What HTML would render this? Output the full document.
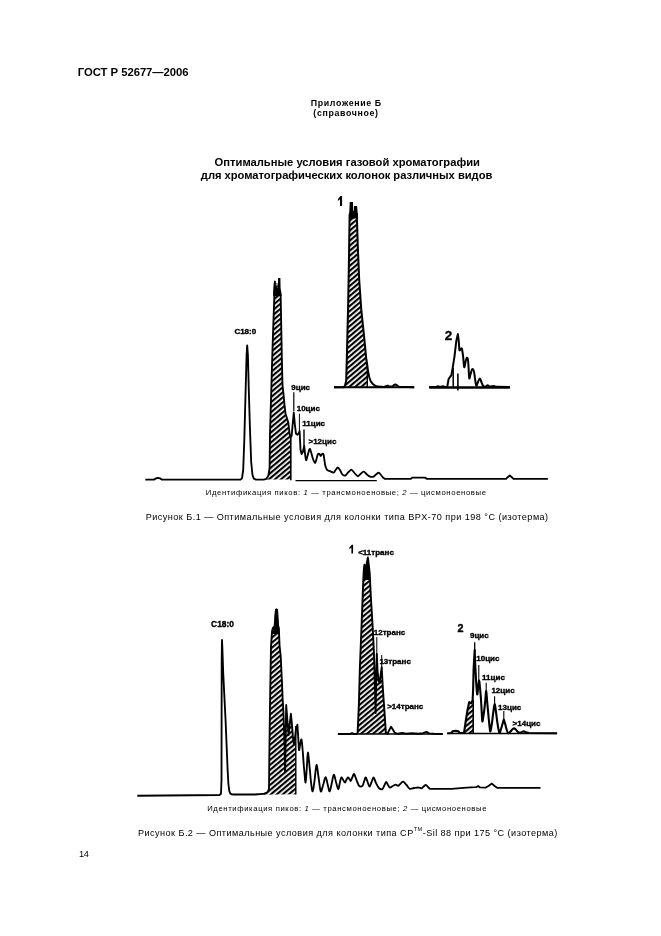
<!DOCTYPE html>
<html><head><meta charset="utf-8">
<style>
html,body{margin:0;padding:0;background:#fff;}
body{filter:grayscale(1);}
body{width:661px;height:936px;position:relative;overflow:hidden;font-family:"Liberation Sans",sans-serif;color:#000;}
.t{position:absolute;white-space:nowrap;line-height:1;}
.c{text-align:center;left:0;width:661px;}
.b{font-weight:bold;}
svg{position:absolute;left:0;top:0;}
.lb{font-family:"Liberation Sans",sans-serif;font-weight:bold;font-size:7.5px;stroke:#000;stroke-width:0.35px;}
</style></head><body>
<div class="t b" id="hdr" style="left:77.8px;top:66.5px;font-size:11.3px;letter-spacing:-0.040px;">ГОСТ Р 52677—2006</div>
<div class="t b" id="app1" style="left:310.8px;top:98.9px;font-size:8.8px;letter-spacing:0.650px;">Приложение Б</div>
<div class="t b" id="app2" style="left:313.3px;top:108.9px;font-size:8.8px;letter-spacing:0.650px;">(справочное)</div>
<div class="t b" id="ttl1" style="left:214.6px;top:156.8px;font-size:11.2px;letter-spacing:0.000px;">Оптимальные условия газовой хроматографии</div>
<div class="t b" id="ttl2" style="left:200.8px;top:169.7px;font-size:11.2px;letter-spacing:-0.020px;">для хроматографических колонок различных видов</div>
<div class="t" id="id1" style="left:205.8px;top:488.9px;font-size:7.7px;letter-spacing:0.636px;">Идентификация пиков: <i>1</i> — трансмоноеновые; <i>2</i> — цисмоноеновые</div>
<div class="t" id="cap1" style="left:145.7px;top:513.2px;font-size:9.1px;letter-spacing:0.463px;">Рисунок Б.1 — Оптимальные условия для колонки типа BPX-70 при 198 °С (изотерма)</div>
<div class="t" id="id2" style="left:207.2px;top:804.8px;font-size:7.7px;letter-spacing:0.620px;">Идентификация пиков: <i>1</i> — трансмоноеновые; <i>2</i> — цисмоноеновые</div>
<div class="t" id="cap2" style="left:138.0px;top:829.2px;font-size:9.1px;letter-spacing:0.455px;">Рисунок Б.2 — Оптимальные условия для колонки типа CP<sup style="font-size:5.6px;vertical-align:4.6px;line-height:0;">TM</sup>-Sil 88 при 175 °С (изотерма)</div>
<div class="t" id="pg" style="left:79.0px;top:850.1px;font-size:9.2px;letter-spacing:-0.300px;">14</div>
<svg width="661" height="936" viewBox="0 0 661 936">
<defs>
<pattern id="h" width="3.85" height="3.85" patternUnits="userSpaceOnUse" patternTransform="rotate(-40)"><rect width="3.85" height="2.15" fill="#000"/></pattern>
</defs>
<path d="M263.5 479.6 L266.5 478.8 L268.4 475.5 L269.6 468.0 L270.0 433.0 L271.0 400.0 L272.0 365.0 L273.2 328.0 L274.2 300.0 L274.4 290.0 L274.9 281.0 L275.8 288.0 L276.8 282.0 L277.6 288.0 L278.6 279.0 L279.2 278.0 L279.6 288.0 L280.7 297.0 L281.3 330.0 L282.0 365.0 L282.5 385.0 L283.5 394.0 L284.5 405.0 L285.6 414.0 L286.6 417.0 L288.4 423.0 L289.6 434.0 L290.5 437.2 L291.0 479.6Z" fill="url(#h)" stroke="none"/>
<path d="M273.2 296.0 L273.3 288.0 L274.0 280.7 L275.8 280.7 L276.0 288.0 L276.5 288.0 L276.7 283.0 L277.4 283.0 L277.6 288.0 L278.0 288.0 L278.1 278.0 L280.4 278.0 L280.6 288.0 L281.7 296.0Z" fill="#000" stroke="none"/>
<path d="M145.3 479.6 L154.0 479.6 L156.0 478.4 L158.0 477.8 L160.0 478.4 L162.0 479.6 L240.5 479.6 L242.0 478.3 L243.2 470.0 L244.3 440.0 L245.5 395.0 L246.6 355.0 L247.2 345.4 L247.9 355.0 L248.8 390.0 L250.0 430.0 L251.2 462.0 L252.4 474.5 L253.8 478.6 L256.0 479.6 L263.5 479.6 L266.5 478.8 L268.4 475.5 L269.6 468.0 L270.0 433.0 L271.0 400.0 L272.0 365.0 L273.2 328.0 L274.2 300.0 L274.4 290.0 M280.0 290.0 L280.7 297.0 L281.3 330.0 L282.0 365.0 L282.5 385.0 L283.5 394.0 L284.5 405.0 L285.6 414.0 L286.6 417.0 L288.4 423.0 L289.6 434.0 L290.5 437.2 L291.6 436.0 L292.6 425.0 L293.8 412.5 L294.8 424.0 L296.0 433.8 L297.4 434.8 L298.8 433.0 L299.6 431.0 L300.5 449.6 L301.6 454.0 L302.8 452.0 L304.2 446.0 C304.4 447.5 304.9 452.6 305.2 455.0 C305.5 457.4 305.7 460.0 306.1 460.2 C306.5 460.4 306.9 457.9 307.5 456.0 C308.1 454.1 308.9 449.7 309.5 449.0 C310.1 448.3 310.4 450.3 311.0 452.0 C311.6 453.7 312.3 457.2 313.0 459.0 C313.7 460.8 314.5 463.0 315.1 463.0 C315.7 463.0 316.0 460.4 316.5 459.0 C317.0 457.6 317.4 455.1 317.9 454.3 C318.4 453.5 319.0 453.7 319.5 454.0 C320.0 454.3 320.3 456.0 320.7 456.0 C321.1 456.0 321.5 454.3 322.0 454.0 C322.5 453.7 323.1 453.3 323.5 454.3 C323.9 455.3 324.1 458.2 324.4 460.0 C324.7 461.8 324.8 463.7 325.2 465.3 C325.6 466.9 326.1 468.7 326.9 469.7 C327.7 470.7 328.9 470.7 330.0 471.2 C331.1 471.7 332.7 472.8 333.6 472.6 C334.5 472.4 334.9 470.9 335.6 470.0 C336.3 469.1 337.1 467.5 337.8 467.5 C338.5 467.5 339.3 468.9 340.0 470.0 C340.7 471.1 341.4 473.1 342.0 474.0 C342.6 474.9 343.1 475.2 343.7 475.4 C344.3 475.6 344.8 475.9 345.6 475.3 C346.4 474.7 347.5 472.9 348.5 472.0 C349.5 471.1 350.6 469.6 351.6 469.8 C352.6 470.0 353.5 471.9 354.5 473.0 C355.5 474.1 356.7 476.0 357.7 476.2 C358.7 476.4 359.5 474.8 360.5 474.0 C361.5 473.2 362.6 471.5 363.7 471.6 C364.8 471.7 365.8 473.6 367.0 474.5 C368.2 475.4 369.5 476.5 370.7 476.8 C371.9 477.1 373.0 476.8 374.0 476.3 C375.0 475.8 375.7 474.6 376.5 474.0 C377.3 473.4 378.1 472.6 378.9 472.8 C379.6 473.0 380.3 474.2 381.0 475.0 C381.7 475.8 382.7 477.2 383.0 477.6 L384.9 478.9 L410.6 478.9 L412.5 477.6 L425.0 477.6 L427.0 478.9 L506.0 478.9 L508.0 477.0 L509.8 475.5 L511.6 477.0 L513.5 478.9 L547.9 478.9" fill="none" stroke="#000" stroke-width="1.85" stroke-linejoin="round" stroke-linecap="butt"/>
<path d="M290.8 436.0 L290.8 480.2" stroke="#000" stroke-width="1.6" fill="none"/>
<path d="M295.5 480.6 L376.8 480.6" stroke="#000" stroke-width="1.1" fill="none"/>
<path d="M293.8 392.3 L293.8 411.0" stroke="#000" stroke-width="1.2" fill="none"/>
<path d="M299.4 413.7 L299.4 431.0" stroke="#000" stroke-width="1.0" fill="none"/>
<path d="M304.0 429.4 L304.0 446.5" stroke="#000" stroke-width="1.4" fill="none"/>
<text x="234.4" y="333.9" class="lb" style="font-size:8px;">C18:0</text>
<text x="291.3" y="389.8" class="lb" style="font-size:8px;">9цис</text>
<text x="296.7" y="410.5" class="lb" style="font-size:8px;">10цис</text>
<text x="302.3" y="426.4" class="lb" style="font-size:8px;">11цис</text>
<text x="308.5" y="444.4" class="lb" style="font-size:8px;">&gt;12цис</text>
<path d="M343.6 387.3 L345.0 385.5 L346.2 380.6 L347.0 351.4 L348.1 306.6 L349.0 257.3 L349.6 214.7 L350.4 204.0 L351.4 202.2 L352.3 204.0 L353.3 211.5 L354.3 208.0 L355.5 206.0 L356.3 208.0 L356.8 214.7 L357.8 246.0 L359.2 279.7 L361.2 308.8 L364.0 335.7 L366.2 358.2 L367.4 366.0 L367.4 387.3Z" fill="url(#h)" stroke="none"/>
<path d="M349.0 218.5 L349.3 212.0 L349.7 202.1 L353.0 202.1 L353.2 211.2 L353.8 211.2 L354.0 205.9 L357.1 205.9 L357.6 212.0 L358.2 218.5Z" fill="#000" stroke="none"/>
<path d="M334.0 387.3 L343.6 387.3 L345.0 385.5 L346.2 380.6 L347.0 351.4 L348.1 306.6 L349.0 257.3 L349.6 214.7 L350.3 213.0" fill="none" stroke="#000" stroke-width="2.0" stroke-linejoin="round" stroke-linecap="butt" />
<path d="M356.7 213.0 L356.8 214.7 L357.8 246.0 L359.2 279.7 L361.2 308.8 L364.0 335.7 L366.2 358.2 L367.4 366.0 L368.0 371.0 L369.2 377.0 L370.6 381.0 L372.5 383.7 L375.0 385.6 L378.0 386.6 L384.0 387.0 L386.0 386.2 L387.8 385.6 L389.5 386.6 L392.5 386.4 L394.0 385.0 L395.4 384.4 L397.0 385.4 L399.0 386.8 L414.2 387.3" fill="none" stroke="#000" stroke-width="2.0" stroke-linejoin="round" stroke-linecap="butt" />
<path d="M334.0 387.3 L414.2 387.3" stroke="#000" stroke-width="2.0" fill="none"/>
<path d="M367.3 364.0 L367.3 387.3" stroke="#000" stroke-width="1.4" fill="none"/>
<path d="M342.10 206.00 L340.00 206.00 L340.00 199.20 L337.90 201.00 L337.90 199.00 L340.52 196.00 L342.10 196.00Z" fill="#000"/>
<path d="M429.2 387.5 L509.9 387.5" stroke="#000" stroke-width="2.4" fill="none"/>
<path d="M429.2 386.9 L436.0 386.9 L438.0 386.2 L440.0 386.9 L443.0 386.3 L445.0 386.9 L447.3 386.7 L448.6 379.0 L450.0 377.0 L451.3 375.4 L452.2 370.8 L454.5 356.3 L456.3 340.9 L457.9 334.1 C458.0 335.4 458.6 339.2 458.8 341.8 C459.1 344.4 459.1 348.7 459.4 350.0 C459.7 351.3 460.2 349.6 460.6 349.4 C461.0 349.2 461.4 347.5 461.8 348.6 C462.2 349.8 462.7 353.2 463.1 356.3 C463.5 359.4 463.8 366.2 464.2 367.2 C464.6 368.1 465.1 363.6 465.5 362.0 C465.9 360.4 466.4 357.9 466.8 357.7 C467.2 357.5 467.8 358.4 468.1 360.8 C468.4 363.2 468.6 369.1 468.8 372.0 C469.0 374.9 469.0 378.2 469.3 378.5 C469.6 378.8 470.1 375.6 470.6 374.0 C471.1 372.4 471.6 369.4 472.2 369.0 C472.8 368.6 473.5 369.9 474.0 371.7 C474.5 373.5 474.8 377.6 475.2 380.0 C475.6 382.4 475.8 385.5 476.3 385.8 C476.8 386.1 477.4 383.2 478.0 382.0 C478.6 380.8 479.3 378.5 479.9 378.5 C480.5 378.5 480.9 380.8 481.4 382.0 C481.9 383.2 482.4 385.0 483.1 385.8 C483.8 386.6 484.8 386.7 485.5 386.6 C486.2 386.5 486.9 385.2 487.6 385.2 C488.4 385.2 488.9 386.5 490.0 386.6 C491.1 386.7 492.8 386.0 494.0 386.0 C495.2 386.0 494.4 386.7 497.0 386.8 C499.6 386.9 507.8 386.9 509.9 386.9" fill="none" stroke="#000" stroke-width="2.0" stroke-linejoin="round" stroke-linecap="butt"/>
<path d="M453.2 368.0 L453.2 387.5" stroke="#000" stroke-width="1.5" fill="none"/>
<path d="M457.9 373.6 L457.9 390.4" stroke="#000" stroke-width="1.6" fill="none"/>
<text x="444.7" y="339.8" class="lb" style="font-size:13.5px;">2</text>
<path d="M260.7 794.0 L264.0 793.6 L267.0 792.5 L268.6 790.3 L269.0 788.0 L269.4 750.0 L270.1 698.0 L271.0 646.0 L272.0 632.0 L272.9 628.0 L274.6 626.0 L275.2 619.0 L276.0 610.0 L276.5 609.2 L277.0 610.0 L277.4 619.0 L278.0 625.0 L278.8 628.0 L279.6 646.0 L280.7 656.0 L282.0 683.0 L282.6 698.0 L283.4 711.2 L284.3 736.8 L285.1 771.7 L285.6 740.0 L286.2 705.0 L287.2 718.0 L288.6 735.0 L289.7 724.0 L290.9 713.8 L292.0 725.0 L293.0 738.0 L294.0 744.5 L295.0 738.0 L295.8 730.0 L295.8 794.3 L262.0 794.8Z" fill="url(#h)" stroke="none"/>
<path d="M271.2 634.0 L272.0 628.0 L274.0 626.5 L275.0 609.0 L278.0 609.0 L279.0 626.5 L280.0 634.0Z" fill="#000" stroke="none"/>
<path d="M137.3 795.7 L219.5 795.0 L221.0 793.8 L221.5 780.0 L221.7 660.0 L222.0 640.0 L222.5 652.0 L223.2 672.6 L224.4 697.0 L225.6 721.0 L226.6 745.0 L227.6 769.5 L228.4 784.0 L229.3 791.2 L230.4 793.6 L231.7 794.4 L234.0 794.5 L255.0 794.5 L260.7 794.0 L264.0 793.6 L267.0 792.5 L268.6 790.3 L269.0 788.0 L269.4 750.0 L270.1 698.0 L271.0 646.0 L272.0 632.0 L272.9 628.0 L274.6 626.0 L275.2 619.0 L276.0 610.0 L276.5 609.2 L277.0 610.0 L277.4 619.0 L278.0 625.0 L278.8 628.0 L279.6 646.0 L280.7 656.0 L282.0 683.0 L282.6 698.0 L283.4 711.2 L284.3 736.8 L285.1 771.7 L285.6 740.0 L286.2 705.0 L287.2 718.0 L288.6 735.0 L289.7 724.0 L290.9 713.8 L292.0 725.0 L293.0 738.0 L294.0 744.5 L295.0 738.0 L295.8 730.0 L296.6 727.0 L297.4 724.7 C297.5 726.8 297.9 732.8 298.2 737.0 C298.5 741.2 298.7 748.8 299.0 750.0 C299.3 751.2 299.8 745.7 300.2 744.0 C300.6 742.3 301.1 738.4 301.5 739.7 C301.9 741.0 302.4 747.0 302.8 752.0 C303.2 757.0 303.7 764.9 304.2 770.0 C304.7 775.1 305.2 782.9 305.6 782.6 C306.0 782.3 306.4 773.0 306.8 768.0 C307.2 763.0 307.4 752.9 307.9 752.6 C308.3 752.3 309.0 761.1 309.5 766.0 C310.0 770.9 310.5 777.8 311.0 782.0 C311.5 786.2 312.1 791.7 312.7 791.4 C313.3 791.1 314.0 784.4 314.6 780.0 C315.2 775.6 315.9 765.4 316.5 764.9 C317.1 764.4 317.9 773.1 318.5 777.0 C319.1 780.9 319.6 785.6 320.0 788.0 C320.4 790.4 320.6 792.1 321.2 791.4 C321.8 790.7 322.6 786.4 323.4 784.0 C324.1 781.6 325.0 776.9 325.7 777.1 C326.4 777.3 327.1 782.6 327.8 785.0 C328.5 787.4 329.0 791.7 329.7 791.4 C330.4 791.1 331.1 785.8 331.8 783.0 C332.5 780.2 333.1 774.8 333.8 774.6 C334.5 774.4 335.3 779.6 336.0 782.0 C336.7 784.4 337.6 789.0 338.2 789.2 C338.8 789.4 339.3 785.0 339.8 783.0 C340.3 781.0 340.7 778.0 341.3 777.5 C341.9 777.0 342.6 779.2 343.2 780.0 C343.8 780.8 344.4 782.6 345.0 782.5 C345.6 782.4 346.0 780.3 346.5 779.5 C347.0 778.7 347.5 777.6 348.0 777.5 C348.5 777.4 348.9 778.5 349.4 779.0 C349.9 779.5 350.3 781.1 350.8 780.8 C351.3 780.5 351.9 778.1 352.5 777.0 C353.1 775.9 353.4 773.6 354.1 774.1 C354.8 774.6 355.7 778.0 356.5 780.0 C357.3 782.0 358.1 784.8 359.1 785.8 C360.1 786.8 361.6 786.6 362.5 785.8 C363.4 785.0 363.6 782.4 364.2 781.0 C364.8 779.6 365.2 777.3 365.8 777.5 C366.4 777.7 367.0 780.5 367.6 782.0 C368.2 783.5 368.9 786.6 369.6 786.6 C370.3 786.6 370.9 783.5 371.6 782.0 C372.3 780.5 372.9 777.3 373.6 777.5 C374.3 777.7 375.1 781.2 376.0 783.0 C376.9 784.8 378.0 787.3 379.1 788.3 C380.2 789.3 381.5 789.6 382.4 789.1 C383.3 788.6 383.7 786.7 384.3 785.5 C384.9 784.3 385.6 782.1 386.2 782.0 C386.8 781.9 387.4 784.1 388.0 785.0 C388.6 785.9 389.1 787.3 389.9 787.5 C390.7 787.7 391.8 786.5 392.8 786.0 C393.8 785.5 394.8 784.6 395.7 784.6 C396.6 784.6 397.4 786.0 398.2 785.8 C399.0 785.6 399.9 784.2 400.7 783.5 C401.5 782.8 402.2 781.4 403.2 781.6 C404.2 781.9 405.4 783.8 406.5 785.0 C407.6 786.2 408.6 788.3 409.9 788.8 C411.1 789.3 412.6 788.2 414.0 788.0 C415.4 787.8 416.9 787.5 418.2 787.5 C419.4 787.5 420.6 788.4 421.5 788.3 C422.4 788.1 422.9 787.2 423.6 786.6 C424.3 786.0 425.2 784.8 425.9 784.8 C426.6 784.8 427.1 786.1 427.8 786.8 C428.5 787.5 429.5 788.5 429.8 788.8 L451.5 788.9 L463.6 787.9 L470.8 787.4 L476.0 787.2 L478.1 786.0 L480.0 787.4 L485.4 787.7 L488.5 786.0 L491.9 783.6 L494.6 786.0 L497.5 787.9 L540.5 787.9" fill="none" stroke="#000" stroke-width="1.85" stroke-linejoin="round" stroke-linecap="butt"/>
<path d="M295.8 726.0 L295.8 794.5" stroke="#000" stroke-width="1.4" fill="none"/>
<text x="211.1" y="626.7" class="lb" style="font-size:8.4px;">C18:0</text>
<path d="M357.6 733.0 L358.4 715.0 L358.9 704.0 L359.8 669.7 L361.6 624.8 L363.2 582.1 L363.8 570.0 L364.4 564.8 L365.0 567.0 L365.8 570.0 L366.8 563.0 L367.9 557.5 L368.8 565.0 L369.7 573.0 L370.9 597.9 L372.8 629.3 L373.9 651.7 L374.8 680.9 L375.6 713.0 L376.2 680.0 L376.8 654.0 L377.6 672.0 L378.6 680.0 L379.6 683.0 L380.6 675.0 L381.7 667.3 L382.6 684.0 L383.4 696.6 L384.7 714.8 L385.8 731.9 L386.0 734.0 L357.4 734.0Z" fill="url(#h)" stroke="none"/>
<path d="M363.2 580.0 L363.8 566.0 L364.4 563.5 L366.0 569.0 L367.9 556.5 L369.2 566.0 L370.0 580.0Z" fill="#000" stroke="none"/>
<path d="M337.9 734.0 L350.0 734.0 L352.0 733.2 L354.0 734.0 L356.8 733.8 L357.6 733.0 L358.4 715.0 L358.9 704.0 L359.8 669.7 L361.6 624.8 L363.2 582.1 L363.8 570.0 L364.4 564.8 L365.0 567.0 L365.8 570.0 L366.8 563.0 L367.9 557.5 L368.8 565.0 L369.7 573.0 L370.9 597.9 L372.8 629.3 L373.9 651.7 L374.8 680.9 L375.6 713.0 L376.2 680.0 L376.8 654.0 L377.6 672.0 L378.6 680.0 L379.6 683.0 L380.6 675.0 L381.7 667.3 L382.6 684.0 L383.4 696.6 L384.7 714.8 L385.8 731.9 L387.4 734.0 L389.3 730.0 L391.1 726.8 L392.8 729.5 L394.9 733.0 L398.0 733.8 L402.0 733.0 L406.0 733.8 L412.0 733.2 L418.0 733.8 L423.0 733.2 L426.5 731.9 L429.0 733.4 L434.0 733.8 L442.7 734.0" fill="none" stroke="#000" stroke-width="1.9" stroke-linejoin="round" stroke-linecap="butt" />
<path d="M337.9 734.0 L442.7 734.0" stroke="#000" stroke-width="1.3" fill="none"/>
<path d="M376.8 637.1 L376.8 655.0" stroke="#000" stroke-width="1.0" fill="none"/>
<path d="M381.7 655.0 L381.7 668.0" stroke="#000" stroke-width="1.0" fill="none"/>
<path d="M353.10 553.60 L351.40 553.60 L351.40 547.62 L349.40 549.20 L349.40 547.44 L351.83 544.80 L353.10 544.80Z" fill="#000"/>
<text x="358.2" y="555.2" class="lb" style="font-size:8px;">&lt;11транс</text>
<text x="373.8" y="634.5" class="lb" style="font-size:8px;">12транс</text>
<text x="379.4" y="664.2" class="lb" style="font-size:8px;">13транс</text>
<text x="387.2" y="709.1" class="lb" style="font-size:8px;">&gt;14транс</text>
<path d="M464.1 732.5 L465.6 722.0 L467.5 710.0 L469.2 702.0 L470.4 702.8 L471.4 703.3 L472.6 700.0 L473.1 690.0 L473.3 733.3 L464.1 733.3Z" fill="url(#h)" stroke="none"/>
<path d="M447.3 733.3 L451.3 733.0 L452.5 731.4 L455.5 730.8 L458.5 731.4 L459.8 733.0 L462.5 733.0 L464.1 732.5 L465.6 722.0 L467.5 710.0 L469.2 702.0 L470.4 702.8 L471.4 703.3 L472.6 700.0 L473.1 690.0 L473.6 669.5 L474.2 658.0 L474.7 650.0 C474.8 653.0 475.1 662.3 475.4 668.0 C475.7 673.7 476.0 679.7 476.3 684.1 C476.6 688.5 476.9 693.9 477.2 694.4 C477.5 694.9 477.9 689.3 478.2 687.0 C478.5 684.7 478.9 680.3 479.2 680.5 C479.5 680.7 479.7 685.3 480.0 688.0 C480.3 690.7 480.5 693.2 480.8 696.9 C481.1 700.6 481.4 705.9 481.6 710.0 C481.9 714.1 482.0 720.3 482.3 721.3 C482.6 722.3 483.0 718.4 483.4 716.0 C483.8 713.6 484.3 710.0 484.6 707.2 C484.9 704.4 485.1 701.7 485.4 699.0 C485.7 696.3 485.9 690.5 486.2 691.0 C486.5 691.5 486.8 697.8 487.2 702.0 C487.6 706.2 488.1 712.2 488.5 716.2 C488.9 720.2 489.2 723.5 489.5 726.0 C489.8 728.5 490.0 731.8 490.4 731.5 C490.8 731.2 491.3 727.1 491.8 724.0 C492.3 720.9 492.7 716.3 493.2 713.0 C493.7 709.7 494.1 704.4 494.6 704.2 C495.1 704.0 495.5 708.7 496.0 712.0 C496.5 715.3 497.0 720.5 497.6 724.0 C498.2 727.5 498.8 732.0 499.4 732.8 C500.0 733.6 500.5 730.5 501.0 729.0 C501.5 727.5 502.0 725.6 502.5 724.0 C503.0 722.4 503.4 719.6 503.8 719.6 C504.2 719.6 504.7 722.4 505.2 724.0 C505.7 725.6 506.1 728.0 506.6 729.5 C507.1 731.0 507.7 733.0 508.3 733.3 C508.9 733.6 509.8 732.2 510.5 731.5 C511.2 730.8 511.9 729.8 512.5 729.3 C513.1 728.8 513.6 728.3 514.1 728.3 C514.6 728.3 515.2 729.0 515.8 729.5 C516.4 730.0 516.9 731.0 517.5 731.6 C518.1 732.2 518.9 732.7 519.2 732.9 L521.5 732.2 L523.7 731.3 L526.0 732.4 L529.0 733.0 L557.1 733.3" fill="none" stroke="#000" stroke-width="2.1" stroke-linejoin="round" stroke-linecap="butt"/>
<path d="M447.3 733.5 L557.1 733.5" stroke="#000" stroke-width="1.5" fill="none"/>
<path d="M473.2 700.0 L473.2 733.3" stroke="#000" stroke-width="1.6" fill="none"/>
<path d="M474.7 642.2 L474.7 652.0" stroke="#000" stroke-width="1.3" fill="none"/>
<path d="M478.8 664.9 L478.8 681.0" stroke="#000" stroke-width="1.1" fill="none"/>
<path d="M486.2 682.8 L486.2 692.0" stroke="#000" stroke-width="1.1" fill="none"/>
<path d="M494.6 696.3 L494.6 705.0" stroke="#000" stroke-width="1.1" fill="none"/>
<path d="M503.8 711.0 L503.8 720.0" stroke="#000" stroke-width="1.1" fill="none"/>
<text x="457.5" y="632.1" class="lb" style="font-size:10.8px;">2</text>
<text x="470.0" y="638.1" class="lb" style="font-size:8px;">9цис</text>
<text x="476.3" y="661.3" class="lb" style="font-size:8px;">10цис</text>
<text x="482.1" y="679.5" class="lb" style="font-size:8px;">11цис</text>
<text x="491.4" y="693.1" class="lb" style="font-size:8px;">12цис</text>
<text x="498.1" y="709.5" class="lb" style="font-size:8px;">13цис</text>
<text x="512.6" y="726.2" class="lb" style="font-size:8px;">&gt;14цис</text>
</svg>
</body></html>
